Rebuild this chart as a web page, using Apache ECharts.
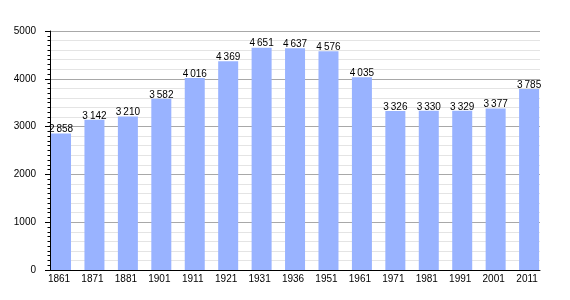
<!DOCTYPE html>
<html><head><meta charset="utf-8">
<script src="https://cdn.jsdelivr.net/npm/echarts@6/dist/echarts.min.js"></script>
<style>html,body{margin:0;padding:0;background:#fff}#c{width:570px;height:300px}</style>
</head><body><div id="c"></div>
<script>
var years = ['1861','1871','1881','1901','1911','1921','1931','1936','1951','1961','1971','1981','1991','2001','2011'];
var population = [2858,3142,3210,3582,4016,4369,4651,4637,4576,4035,3326,3330,3329,3377,3785];
var yMin = 0, yMax = 5000, yMajor = 1000, yMinor = 200;

var font = 'Liberation Sans, Arial, sans-serif';
function fmt(v){ var s = String(v); return s.length > 3 ? s.slice(0, s.length-3) + '\u2009' + s.slice(-3) : s; }

var chart = echarts.init(document.getElementById('c'));
chart.setOption({
  animation: false,
  grid: [
    {left: 50, right: 30, top: 31, bottom: 30},
    {left: 44.3, right: 24.2, top: 31, bottom: 30}
  ],
  xAxis: [
    {type: 'category', gridIndex: 0, data: years, boundaryGap: true,
     axisLine: {show: true, lineStyle: {color: '#000', width: 1}},
     axisTick: {show: false}, axisLabel: {show: false}, splitLine: {show: false}, z: 20},
    {type: 'category', gridIndex: 1, data: years,
     axisLine: {show: false}, axisTick: {show: false},
     axisLabel: {color: '#000', fontSize: 10, fontFamily: font, margin: 4, padding: [0, 4, 0, 0]}}
  ],
  yAxis: [
    {type: 'value', gridIndex: 0, min: yMin, max: yMax, interval: yMajor, z: 0,
     axisLine: {show: true, lineStyle: {color: '#000', width: 1}},
     axisTick: {show: true, length: 5, lineStyle: {color: '#000'}},
     minorTick: {show: true, splitNumber: 10, length: 2.5, lineStyle: {color: '#000'}},
     axisLabel: {color: '#000', fontSize: 10, fontFamily: font, margin: 14,
                 formatter: function(v){ return String(v); }},
     splitLine: {show: true, lineStyle: {color: '#a8a8a8', width: 1}}},
    {type: 'value', gridIndex: 0, min: yMin, max: yMax, interval: yMinor, z: 0,
     axisLine: {show: false}, axisTick: {show: false}, axisLabel: {show: false},
     splitLine: {show: true, lineStyle: {color: ['transparent','#e4e4e4','#e4e4e4','#e4e4e4','#e4e4e4'], width: 1}}},
    {type: 'value', gridIndex: 1, min: yMin, max: yMax, show: false, splitLine: {show: false}}
  ],
  series: [{
    type: 'bar', xAxisIndex: 1, yAxisIndex: 2, data: population, barWidth: 20, z: 10,
    itemStyle: {color: '#99b3ff'},
    label: {show: true, position: 'top', distance: -1, color: '#000', fontSize: 10, fontFamily: font,
            formatter: function(p){ return fmt(p.value); }}
  }]
});
</script></body></html>
